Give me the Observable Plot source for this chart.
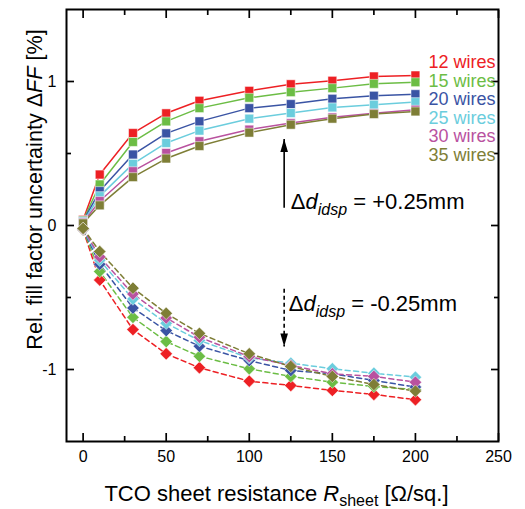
<!DOCTYPE html>
<html><head><meta charset="utf-8">
<script src="https://cdn.jsdelivr.net/npm/d3@7"></script>
<script src="https://cdn.jsdelivr.net/npm/@observablehq/plot@0.6"></script>
<style>body{margin:0;background:#fff}</style>
</head><body><div id="chart"></div>
<script>
// ---- data ----
const rSheet = [0, 10, 30, 50, 70, 100, 125, 150, 175, 200];
const series = ["12 wires", "15 wires", "20 wires", "25 wires", "30 wires", "35 wires"];
const colors = ["#ED2024", "#6CBD45", "#3A54A4", "#6BCDDD", "#B9529F", "#7E7E36"];
// Δd_idsp = +0.25 mm (squares, solid)
const plus12 = [0.040, 0.354, 0.642, 0.779, 0.866, 0.935, 0.981, 1.005, 1.035, 1.042];
const plus15 = [0.035, 0.285, 0.580, 0.723, 0.815, 0.887, 0.926, 0.954, 0.984, 0.995];
const plus20 = [0.030, 0.239, 0.493, 0.640, 0.723, 0.815, 0.843, 0.880, 0.901, 0.912];
const plus25 = [0.025, 0.204, 0.428, 0.573, 0.659, 0.742, 0.781, 0.820, 0.839, 0.857];
const plus30 = [0.020, 0.170, 0.377, 0.504, 0.585, 0.666, 0.711, 0.751, 0.779, 0.804];
const plus35 = [0.015, 0.140, 0.336, 0.465, 0.552, 0.645, 0.700, 0.742, 0.774, 0.792];
// Δd_idsp = -0.25 mm (diamonds, dashed)
const minus12 = [-0.030, -0.379, -0.723, -0.891, -0.988, -1.081, -1.111, -1.145, -1.173, -1.210];
const minus15 = [-0.028, -0.320, -0.638, -0.806, -0.908, -0.995, -1.048, -1.088, -1.118, -1.140];
const minus20 = [-0.026, -0.269, -0.573, -0.730, -0.838, -0.938, -1.007, -1.030, -1.076, -1.122];
const minus25 = [-0.024, -0.241, -0.511, -0.679, -0.799, -0.919, -0.956, -0.995, -1.026, -1.053];
const minus30 = [-0.022, -0.218, -0.476, -0.642, -0.776, -0.910, -0.972, -1.030, -1.048, -1.088];
const minus35 = [-0.020, -0.181, -0.435, -0.610, -0.749, -0.891, -0.979, -1.048, -1.104, -1.150];
const xMajor = [0, 50, 100, 150, 200, 250];
const xMinor = [25, 75, 125, 175, 225];
const yMajor = [-1, 0, 1];
const yMinor = [-0.5, 0.5];
// annotations (data units)
const arrowPlus = {x: 121, yFrom: 0.123, yTip: 0.60};
const arrowMinus = {x: 121, yFrom: -0.44, yTip: -0.84};
const labelPlus = {x: 125, y: 0.163, text: "Δd_idsp = +0.25mm"};
const labelMinus = {x: 123.8, y: -0.547, text: "Δd_idsp = -0.25mm"};
const xTitle = "TCO sheet resistance R_sheet [Ω/sq.]";
const yTitle = "Rel. fill factor uncertainty ΔFF [%]";

// ---- tidy ----
const plusSets = [plus12, plus15, plus20, plus25, plus30, plus35];
const minusSets = [minus12, minus15, minus20, minus25, minus30, minus35];
const tidy = sets => sets.flatMap((vals, i) => vals.map((v, j) => ({series: series[i], x: rSheet[j], y: v})));
const posRows = tidy(plusSets);
const negRows = tidy(minusSets);

const FONT = '"Liberation Sans", Arial, Helvetica, sans-serif';
const head = {draw(ctx, l) { ctx.moveTo(-3.8, 0); ctx.lineTo(0, -l); ctx.lineTo(3.8, 0); ctx.closePath(); }};

const tickAxes = [];
for (const anchor of ["bottom", "top"]) {
  tickAxes.push(Plot.axisX({anchor, ticks: xMajor, tickSize: -8, fill: "none", strokeWidth: 1.7, label: null}));
  tickAxes.push(Plot.axisX({anchor, ticks: xMinor, tickSize: -5, fill: "none", strokeWidth: 1.7, label: null}));
}
for (const anchor of ["left", "right"]) {
  tickAxes.push(Plot.axisY({anchor, ticks: yMajor, tickSize: -8, fill: "none", strokeWidth: 1.7, label: null}));
  tickAxes.push(Plot.axisY({anchor, ticks: yMinor, tickSize: -5, fill: "none", strokeWidth: 1.7, label: null}));
}

const plot = Plot.plot({
  width: 525, height: 509,
  marginLeft: 66, marginRight: 27, marginTop: 9, marginBottom: 68,
  style: {fontFamily: FONT, fontSize: "16px", color: "black", background: "white"},
  x: {domain: [-10, 250]},
  y: {domain: [-1.5, 1.5]},
  color: {domain: series, range: colors},
  marks: [
    Plot.line(posRows, {x: "x", y: "y", z: "series", stroke: "series", strokeWidth: 1.5}),
    Plot.line(negRows, {x: "x", y: "y", z: "series", stroke: "series", strokeWidth: 1.5, strokeDasharray: "5,3.5"}),
    Plot.dot(posRows, {x: "x", y: "y", fill: "series", symbol: "square", r: 5, stroke: "white", strokeWidth: 0.5}),
    Plot.dot(negRows, {x: "x", y: "y", fill: "series", symbol: "diamond2", r: 5.6, stroke: "white", strokeWidth: 0.5}),
    Plot.frame({stroke: "black", strokeWidth: 2}),
    ...tickAxes,
    Plot.axisX({ticks: xMajor, tickSize: 0, tickPadding: 9, fontSize: 16, label: null, tickFormat: d => String(d)}),
    Plot.axisY({ticks: yMajor, tickSize: 0, tickPadding: 10, fontSize: 16, label: null, tickFormat: d => String(d)}),
    // legend labels
    ...series.map((s, i) => Plot.text([s], {frameAnchor: "top-right", text: d => d, fill: colors[i], textAnchor: "end", lineAnchor: "middle", dx: -3, dy: 53 + i * 18.5, fontSize: 18})),
    // arrows
    Plot.link([arrowPlus], {x1: "x", x2: "x", y1: "yFrom", y2: "yTip", stroke: "black", strokeWidth: 1.6}),
    Plot.link([arrowMinus], {x1: "x", x2: "x", y1: "yFrom", y2: "yTip", stroke: "black", strokeWidth: 1.6, strokeDasharray: "4,3"}),
    Plot.vector([arrowPlus], {x: "x", y: "yTip", length: 13, rotate: 0, anchor: "end", shape: head, fill: "black", stroke: "none"}),
    Plot.vector([arrowMinus], {x: "x", y: "yTip", length: 13, rotate: 180, anchor: "end", shape: head, fill: "black", stroke: "none"}),
    Plot.text([labelPlus], {x: "x", y: "y", text: "text", textAnchor: "start", lineAnchor: "middle", fontSize: 22, fill: "black"}),
    Plot.text([labelMinus], {x: "x", y: "y", text: "text", textAnchor: "start", lineAnchor: "middle", fontSize: 22, fill: "black"}),
    // axis titles
    Plot.text([xTitle], {frameAnchor: "bottom", text: d => d, textAnchor: "middle", lineAnchor: "middle", dx: -6, dy: 52, fontSize: 22, fill: "black"}),
    Plot.text([yTitle], {frameAnchor: "left", text: d => d, rotate: -90, textAnchor: "middle", lineAnchor: "middle", dx: -31, dy: -36, fontSize: 21.6, fill: "black"})
  ]
});
document.getElementById("chart").appendChild(plot);

// rich text: italics and subscripts
function rich(plain, parts, subSize, shift) {
  d3.select(plot).selectAll("text").filter(function () { return this.textContent === plain; }).each(function () {
    const t = d3.select(this);
    t.text(null);
    let down = false;
    for (const p of parts) {
      const ts = t.append("tspan").text(p.t);
      if (p.i) ts.attr("font-style", "italic");
      if (p.sub) {
        ts.attr("font-size", subSize);
        if (!down) { ts.attr("dy", shift); down = true; }
      } else if (down) { ts.attr("dy", -shift); down = false; }
    }
  });
}
rich(labelPlus.text, [{t: "Δ"}, {t: "d", i: true}, {t: "idsp", i: true, sub: true}, {t: " = +0.25mm"}], 16, 6);
rich(labelMinus.text, [{t: "Δ"}, {t: "d", i: true}, {t: "idsp", i: true, sub: true}, {t: " = -0.25mm"}], 16, 6);
rich(xTitle, [{t: "TCO sheet resistance "}, {t: "R", i: true}, {t: "sheet", sub: true}, {t: " [Ω/sq.]"}], 16, 5);
rich(yTitle, [{t: "Rel. fill factor uncertainty Δ"}, {t: "FF", i: true}, {t: " [%]"}], 15, 0);
</script>
</body></html>
